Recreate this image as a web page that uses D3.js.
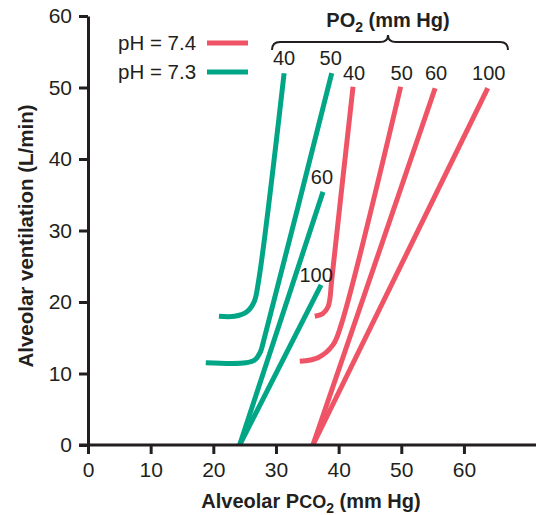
<!DOCTYPE html>
<html>
<head>
<meta charset="utf-8">
<script src="https://cdn.jsdelivr.net/npm/d3@7"></script>
<style>
  html, body { margin: 0; padding: 0; background: #fff; }
  svg { display: block; font-family: "Liberation Sans", Arial, sans-serif; }
</style>
</head>
<body>
<svg id="chart" width="536" height="515"></svg>
<script>
// ---- data ----
const xTicks = [0, 10, 20, 30, 40, 50, 60];
const yTicks = [0, 10, 20, 30, 40, 50, 60];
const legendLabels = ["pH = 7.4", "pH = 7.3"];
const seriesColors = ["#ef5466", "#00a685"];

// pH 7.3 (green) curves: [PCO2, ventilation]
const ph73_po2_40  = [[20.9, 18.0], [23.4, 18.0], [25.3, 18.6], [26.5, 20.0], [27.2, 22.8], [31.3, 52.0]];
const ph73_po2_50  = [[18.8, 11.5], [25.2, 11.5], [26.6, 11.9], [27.5, 13.0], [28.1, 14.8], [38.9, 52.0]];
const ph73_po2_60  = [[24.2, 0], [37.5, 35.4]];
const ph73_po2_100 = [[24.2, 0], [37.2, 22.4]];
// pH 7.4 (red) curves
const ph74_po2_40  = [[36.2, 18.0], [37.5, 18.4], [38.3, 19.3], [38.6, 20.4], [38.9, 23.1], [42.3, 50.1]];
const ph74_po2_50  = [[33.8, 11.7], [36.7, 12.2], [39.1, 14.0], [40.4, 16.8], [49.9, 50.1]];
const ph74_po2_60  = [[35.9, 0], [55.4, 49.9]];
const ph74_po2_100 = [[35.9, 0], [63.8, 49.9]];

const greenCurves = [ph73_po2_40, ph73_po2_50, ph73_po2_60, ph73_po2_100];
const redCurves   = [ph74_po2_40, ph74_po2_50, ph74_po2_60, ph74_po2_100];
const greenLabels = ["40", "50", "60", "100"];
const redLabels   = ["40", "50", "60", "100"];

// ---- drawing ----
const svg = d3.select("#chart");
const x = d3.scaleLinear().domain([0, 71.5]).range([88, 536]);
const y = d3.scaleLinear().domain([0, 60]).range([445, 16]);
const ink = "#231f20";

const line = d3.line().x(d => x(d[0])).y(d => y(d[1])).curve(d3.curveCatmullRom.alpha(0.5));

function drawSeries(curves, color) {
  svg.append("g").selectAll("path").data(curves).join("path")
    .attr("d", line)
    .attr("fill", "none")
    .attr("stroke", color)
    .attr("stroke-width", 5)
    .attr("stroke-linecap", "butt");
}
drawSeries(greenCurves, seriesColors[1]);
drawSeries(redCurves, seriesColors[0]);

// axes
const yAxis = svg.append("g").attr("transform", `translate(${x(0)},0)`)
  .call(d3.axisLeft(y).tickValues(yTicks).tickSize(9).tickSizeOuter(0).tickPadding(7));
const xAxis = svg.append("g").attr("transform", `translate(0,${y(0)})`)
  .call(d3.axisBottom(x).tickValues(xTicks).tickSize(9).tickSizeOuter(0).tickPadding(8));
[xAxis, yAxis].forEach(a => {
  a.select(".domain").attr("stroke", ink).attr("stroke-width", 3);
  a.selectAll(".tick line").attr("stroke", ink).attr("stroke-width", 3);
  a.selectAll(".tick text").attr("fill", ink).attr("font-size", 21)
    .attr("font-family", "Liberation Sans, Arial, sans-serif");
});
xAxis.select(".domain").attr("d", `M${x(0) - 9},0H536`);

// axis titles
svg.append("text")
  .attr("x", 311).attr("y", 508).attr("text-anchor", "middle")
  .attr("font-size", 20).attr("font-weight", "bold").attr("fill", ink)
  .html('Alveolar P<tspan font-size="18">CO</tspan><tspan font-size="14" dy="5">2</tspan><tspan dy="-5"> (mm Hg)</tspan>');
svg.append("text")
  .attr("transform", "translate(33,236) rotate(-90)")
  .attr("text-anchor", "middle")
  .attr("font-size", 20.5).attr("font-weight", "bold").attr("fill", ink)
  .text("Alveolar ventilation (L/min)");

// curve labels
const lbl = (txt, px, py) => svg.append("text").attr("x", px).attr("y", py)
  .attr("text-anchor", "middle").attr("font-size", 20).attr("fill", ink).text(txt);
const gTop = greenCurves.map(c => c[c.length - 1]);
const rTop = redCurves.map(c => c[c.length - 1]);
lbl(greenLabels[0], x(gTop[0][0]), 65);
lbl(greenLabels[1], x(gTop[1][0]) - 1, 65);
lbl(greenLabels[2], x(gTop[2][0]) - 1, y(gTop[2][1]) - 8);
lbl(greenLabels[3], x(gTop[3][0]) - 5, y(gTop[3][1]) - 3);
redLabels.forEach((t, i) => lbl(t, x(rTop[i][0]) + 1, 80));

// PO2 title and brace
svg.append("text")
  .attr("x", 388).attr("y", 27).attr("text-anchor", "middle")
  .attr("font-size", 20).attr("font-weight", "bold").attr("fill", ink)
  .html('PO<tspan font-size="14" dy="5">2</tspan><tspan dy="-5"> (mm Hg)</tspan>');
svg.append("path")
  .attr("d", "M272,50 Q272,42 280,42 L380,42 Q388,42 388,35 Q388,42 396,42 L500,42 Q508,42 508,50")
  .attr("fill", "none").attr("stroke", ink).attr("stroke-width", 2);

// legend
legendLabels.forEach((t, i) => {
  const ly = 50 + i * 29;
  svg.append("text").attr("x", 118).attr("y", ly)
    .attr("font-size", 20.5).attr("fill", ink).text(t);
  svg.append("line").attr("x1", 207).attr("x2", 248)
    .attr("y1", ly - 7).attr("y2", ly - 7)
    .attr("stroke", seriesColors[i]).attr("stroke-width", 5);
});
</script>
</body>
</html>
